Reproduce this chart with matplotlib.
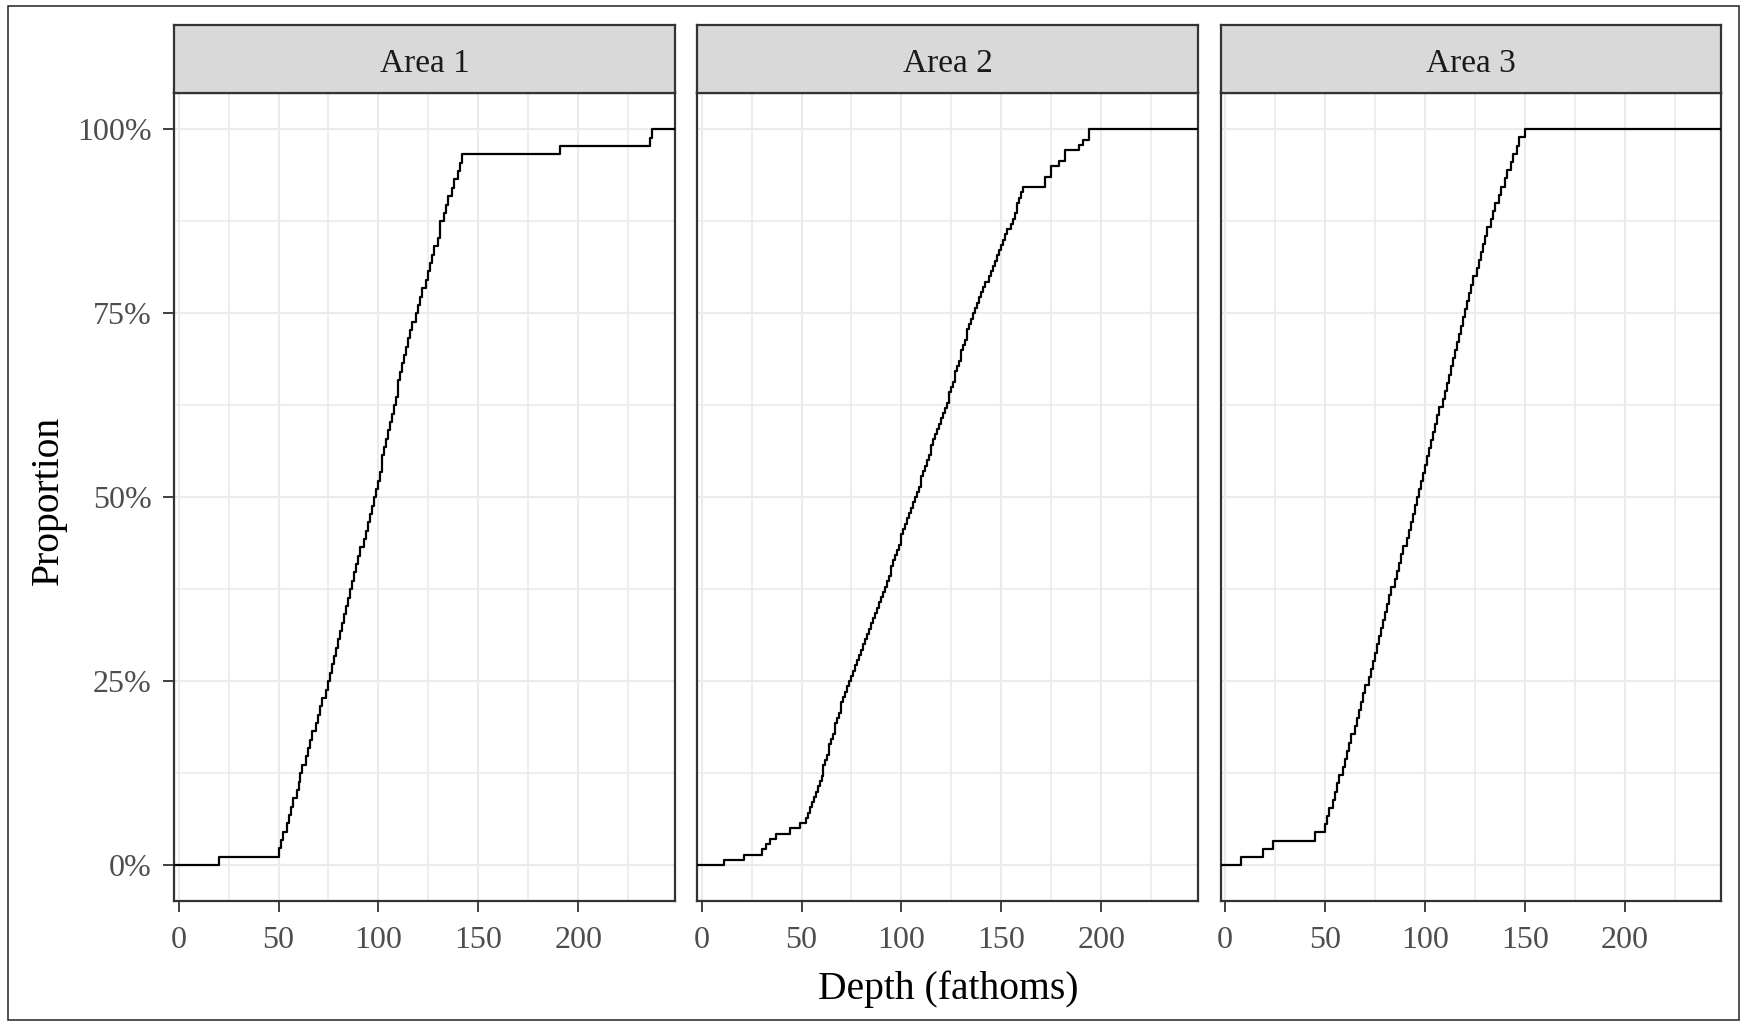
import numpy as np
import matplotlib
matplotlib.use("Agg")
import matplotlib.pyplot as plt
from matplotlib.patches import Rectangle
from matplotlib.ticker import FixedLocator

AREA_1 = [20,
          50, 51, 52, 54, 55, 56, 57, 59, 60, 61, 62, 64, 65, 66, 67, 69, 70, 71, 72, 74, 75,
          76, 77, 78, 79, 80, 81, 82, 83, 84, 85, 86, 87, 88, 89, 90, 91, 93, 94, 95, 96, 97, 98,
          99, 100, 101, 102, 102, 103, 104, 105, 106, 107, 108, 109, 110, 110, 111, 112, 113, 114,
          115, 116, 117, 119,
          120, 121, 122, 124, 125, 126, 127, 128, 130, 131, 131, 133, 134, 135, 137, 138, 140, 141, 142,
          191, 236, 237]
AREA_2 = [11, 21, 30, 32, 34, 37, 44, 49,
          52, 53, 54, 55, 56, 57, 58, 59, 60,
          61, 61, 62, 63, 64, 64, 65, 66, 67, 67, 68, 69, 70, 70, 71, 72, 73, 74,
          75, 76, 77, 78, 79, 80, 81, 82, 83, 84, 85, 86, 87, 88, 89, 90, 91,
          92, 93, 94, 95, 95, 96, 97, 98, 99, 100, 100, 101, 102, 103, 104, 105, 106, 107,
          108, 109, 110, 110, 111, 112, 113, 114, 115, 115, 116, 117, 118, 119, 120, 121, 122,
          123, 124, 124, 125, 126, 127, 127, 128, 129, 130, 130, 131, 132, 133, 133, 134, 135, 136,
          137, 138, 139, 140, 141, 142, 144, 145, 146, 147, 148, 149, 150, 151, 152, 153, 155,
          156, 157, 158, 158, 159, 160, 161,
          172, 172, 175, 175, 179, 182, 182, 189, 191, 194, 194]
AREA_3 = [8, 19, 24, 45,
          50, 51, 52, 54, 55, 56, 57,
          59, 60, 61, 62, 63, 65, 66, 67, 68, 69, 70,
          72, 73, 74, 75, 76, 77, 78, 79, 80, 81, 82, 83,
          85, 86, 87, 88, 89, 91, 92, 93, 94, 95, 96,
          97, 98, 99, 100, 101, 102, 103, 104, 105, 106, 107,
          109, 110, 111, 112, 113, 114, 115, 116, 117, 118, 119,
          120, 121, 122, 123, 124, 126, 127, 128, 129, 130, 131, 133,
          134, 135, 137, 138, 140, 141, 143, 144, 146, 147, 150]

AREAS = ["Area 1", "Area 2", "Area 3"]
DEPTHS = [AREA_1, AREA_2, AREA_3]
X_TICKS = [0, 50, 100, 150, 200]
X_MINOR = [25, 75, 125, 175, 225]
Y_TICKS = [0, 0.25, 0.5, 0.75, 1.0]
Y_MINOR = [0.125, 0.375, 0.625, 0.875]
Y_LABELS = ["0%", "25%", "50%", "75%", "100%"]

XMIN, XMAX = -2.3, 248.4
YMIN, YMAX = -0.048, 1.05

plt.rcParams["font.family"] = ["Liberation Serif", "DejaVu Serif"]
W, H = 1741, 1023
fig = plt.figure(figsize=(W / 100, H / 100), dpi=100)

lefts = [174, 697, 1220.5]
pw = 501
bot, top, strip_top = 900.5, 92.5, 24.5
dark = "#333333"

for i, (name, d) in enumerate(zip(AREAS, DEPTHS)):
    x0 = lefts[i] / W
    ax = fig.add_axes([x0, 1 - bot / H, pw / W, (bot - top) / H])
    xs = np.sort(np.array(d, dtype=float))
    ys = np.arange(1, len(xs) + 1) / len(xs)
    ax.step(np.concatenate([[XMIN], xs, [XMAX]]), np.concatenate([[0], ys, [1]]),
            where="post", color="black", lw=1.6, zorder=3)
    ax.set_xlim(XMIN, XMAX)
    ax.set_ylim(YMIN, YMAX)
    ax.set_xticks(X_TICKS)
    ax.set_xticklabels([str(t) for t in X_TICKS])
    ax.xaxis.set_minor_locator(FixedLocator(X_MINOR))
    ax.yaxis.set_minor_locator(FixedLocator(Y_MINOR))
    ax.set_yticks(Y_TICKS)
    if i == 0:
        ax.set_yticklabels(Y_LABELS)
        ax.tick_params(axis="y", length=8, width=1.3, color=dark, pad=8,
                       labelsize=23, labelcolor="#4D4D4D")
    else:
        ax.tick_params(axis="y", length=0, labelleft=False)
    ax.tick_params(axis="x", length=8, width=1.3, color=dark, pad=10,
                   labelsize=23, labelcolor="#4D4D4D")
    ax.tick_params(which="minor", length=0)
    ax.grid(True, which="major", color="#EBEBEB", lw=1.5, zorder=0)
    ax.grid(True, which="minor", color="#EBEBEB", lw=1.2, zorder=0)
    ax.set_axisbelow(True)
    for s in ax.spines.values():
        s.set_color(dark)
        s.set_linewidth(1.6)

    sax = fig.add_axes([x0, 1 - top / H, pw / W, (top - strip_top) / H])
    sax.set_facecolor("#D9D9D9")
    sax.set_xticks([]); sax.set_yticks([])
    for s in sax.spines.values():
        s.set_color(dark)
        s.set_linewidth(1.6)
    sax.text(0.5, 0.42, name, ha="center", va="center", fontsize=24,
             color="#1A1A1A", transform=sax.transAxes)

fig.text(948 / W, 1 - 989 / H, "Depth (fathoms)", ha="center", va="center", fontsize=28.5)
fig.text(48 / W, 1 - 500 / H, "Proportion", ha="center", va="center", rotation=90, fontsize=28.5)

fig.patches.append(Rectangle((7.5 / W, 1 - 1020 / H), (1739 - 7.5) / W, (1020 - 6) / H,
                             transform=fig.transFigure, fill=False, ec="#222222", lw=1.1))

fig.savefig("out.png", dpi=100)
